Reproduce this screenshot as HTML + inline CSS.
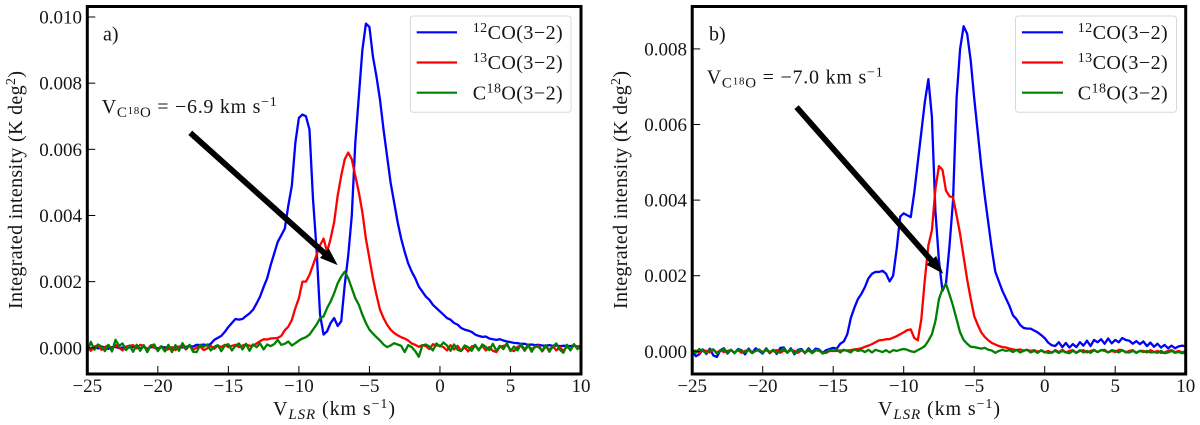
<!DOCTYPE html>
<html lang="en">
<head>
<meta charset="utf-8">
<title>CO spectra</title>
<style>
html,body{margin:0;padding:0;background:#fff;}
svg{display:block;}
text{font-family:"Liberation Serif","DejaVu Serif",serif;fill:#151515;}
.tick{font-size:19px;}
.lab{font-size:20px;}
.leg{font-size:20px;}
</style>
</head>
<body>
<svg id="fig" xmlns="http://www.w3.org/2000/svg" width="1200" height="425" viewBox="0 0 1200 425">
  <rect x="0" y="0" width="1200" height="425" fill="#fff"/>
  <defs>
    <clipPath id="clipA"><rect x="87.3" y="6.5" width="493.7" height="367.5"/></clipPath>
    <clipPath id="clipB"><rect x="692.2" y="6.5" width="493.5" height="367.5"/></clipPath>
  </defs>

  <g id="panelA">
    <g id="seriesA" clip-path="url(#clipA)"></g>
    <g id="ticksA"></g>
    <rect x="87.3" y="6.5" width="493.7" height="367.5" fill="none" stroke="#000" stroke-width="3"/>
    <text class="lab" x="103" y="40.5">a)</text>
    <text class="lab" x="101.7" y="113" textLength="175" lengthAdjust="spacing">V<tspan font-size="15" dy="4">C</tspan><tspan font-size="11" dy="-3">18</tspan><tspan font-size="15" dy="3">O</tspan><tspan dy="-4"> = −6.9 km s</tspan><tspan font-size="14" dy="-7">−1</tspan></text>
    <text class="lab" transform="translate(22,309) rotate(-90)" x="0" y="0" textLength="238" lengthAdjust="spacing">Integrated intensity (K deg<tspan font-size="14" dy="-7">2</tspan><tspan dy="7">)</tspan></text>
    <text class="lab" x="273" y="415" textLength="122" lengthAdjust="spacing">V<tspan font-size="15" font-style="italic" dy="4">LSR</tspan><tspan dy="-4"> (km s</tspan><tspan font-size="14" dy="-7">−1</tspan><tspan dy="7">)</tspan></text>
    <g>
      <rect x="410.3" y="16" width="160.7" height="96.3" rx="3" fill="#fff" fill-opacity="0.85" stroke="#d8d8d8" stroke-width="1"/>
      <line x1="416.7" x2="457" y1="32.3" y2="32.3" stroke="#0000ff" stroke-width="2.2"/>
      <line x1="416.7" x2="457" y1="62.5" y2="62.5" stroke="#ff0000" stroke-width="2.2"/>
      <line x1="416.7" x2="457" y1="92.7" y2="92.7" stroke="#008000" stroke-width="2.2"/>
      <text class="leg" x="472.7" y="39" textLength="90" lengthAdjust="spacing"><tspan font-size="14" dy="-7">12</tspan><tspan dy="7">CO(3−2)</tspan></text>
      <text class="leg" x="472.7" y="69" textLength="90" lengthAdjust="spacing"><tspan font-size="14" dy="-7">13</tspan><tspan dy="7">CO(3−2)</tspan></text>
      <text class="leg" x="472.7" y="99.3" textLength="90" lengthAdjust="spacing">C<tspan font-size="14" dy="-7">18</tspan><tspan dy="7">O(3−2)</tspan></text>
    </g>
  </g>

  <g id="panelB">
    <g id="seriesB" clip-path="url(#clipB)"></g>
    <g id="ticksB"></g>
    <rect x="692.2" y="6.5" width="493.5" height="367.5" fill="none" stroke="#000" stroke-width="3"/>
    <text class="lab" x="709" y="40.5">b)</text>
    <text class="lab" x="706.7" y="83.3" textLength="176" lengthAdjust="spacing">V<tspan font-size="15" dy="4">C</tspan><tspan font-size="11" dy="-3">18</tspan><tspan font-size="15" dy="3">O</tspan><tspan dy="-4"> = −7.0 km s</tspan><tspan font-size="14" dy="-7">−1</tspan></text>
    <text class="lab" transform="translate(627,309) rotate(-90)" x="0" y="0" textLength="238" lengthAdjust="spacing">Integrated intensity (K deg<tspan font-size="14" dy="-7">2</tspan><tspan dy="7">)</tspan></text>
    <text class="lab" x="878" y="415" textLength="122" lengthAdjust="spacing">V<tspan font-size="15" font-style="italic" dy="4">LSR</tspan><tspan dy="-4"> (km s</tspan><tspan font-size="14" dy="-7">−1</tspan><tspan dy="7">)</tspan></text>
    <g>
      <rect x="1015.5" y="16" width="161" height="96.3" rx="3" fill="#fff" fill-opacity="0.85" stroke="#d8d8d8" stroke-width="1"/>
      <line x1="1022" x2="1063" y1="32.3" y2="32.3" stroke="#0000ff" stroke-width="2.2"/>
      <line x1="1022" x2="1063" y1="62.5" y2="62.5" stroke="#ff0000" stroke-width="2.2"/>
      <line x1="1022" x2="1063" y1="92.7" y2="92.7" stroke="#008000" stroke-width="2.2"/>
      <text class="leg" x="1077.7" y="39" textLength="90" lengthAdjust="spacing"><tspan font-size="14" dy="-7">12</tspan><tspan dy="7">CO(3−2)</tspan></text>
      <text class="leg" x="1077.7" y="69" textLength="90" lengthAdjust="spacing"><tspan font-size="14" dy="-7">13</tspan><tspan dy="7">CO(3−2)</tspan></text>
      <text class="leg" x="1077.7" y="99.3" textLength="90" lengthAdjust="spacing">C<tspan font-size="14" dy="-7">18</tspan><tspan dy="7">O(3−2)</tspan></text>
    </g>
  </g>
</svg>

<script>
// Velocity channels (km/s)
const velocity = [
-25,-24.75,-24.5,-24.25,-24,-23.75,-23.5,-23.25,-23,-22.75,-22.5,-22.25,-22,-21.75,-21.5,-21.25,
-21,-20.75,-20.5,-20.25,-20,-19.75,-19.5,-19.25,-19,-18.75,-18.5,-18.25,-18,-17.75,-17.5,-17.25,
-17,-16.75,-16.5,-16.25,-16,-15.75,-15.5,-15.25,-15,-14.75,-14.5,-14.25,-14,-13.75,-13.5,-13.25,
-13,-12.75,-12.5,-12.25,-12,-11.75,-11.5,-11.25,-11,-10.75,-10.5,-10.25,-10,-9.75,-9.5,-9.25,
-9,-8.75,-8.5,-8.25,-8,-7.75,-7.5,-7.25,-7,-6.75,-6.5,-6.25,-6,-5.75,-5.5,-5.25,
-5,-4.75,-4.5,-4.25,-4,-3.75,-3.5,-3.25,-3,-2.75,-2.5,-2.25,-2,-1.75,-1.5,-1.25,
-1,-0.75,-0.5,-0.25,0,0.25,0.5,0.75,1,1.25,1.5,1.75,2,2.25,2.5,2.75,
3,3.25,3.5,3.75,4,4.25,4.5,4.75,5,5.25,5.5,5.75,6,6.25,6.5,6.75,
7,7.25,7.5,7.75,8,8.25,8.5,8.75,9,9.25,9.5,9.75,10];

// Intensities in units of 1e-4 K deg^2 — panel a
const co12A = [
-.6,-.3,.2,-.2, .4,.1,-.3,.2, .3,-.1,.1,-.4, .2,.3,.1,-.2,
.3,-.3,.2,.1, -.2,.3,.1,.2, -.1,.2,.3,.1, .3,.5,.4,.9,
.8,1,.7,1.2, 2.4,3,3.6,4.8, 6.3,7.5,8.7,8.5, 8.7,9.6,10.4,11.5,
13.4,15.5,18.4,21, 25,28.5,32,34, 36,43,49,62, 69.5,70.5,70,66,
45,30,10,4, 5,7.5,9,6.6, 8,19,28,40, 62,76,90,98,
97,88,82,75, 66,58,50,44, 38,33,29,25.5, 23,21,18.5,17,
15.5,14.5,13,12, 11,10,9,8.5, 7.5,7,6,5.5, 5.2,4.8,4,3.6,
3.3,3.4,2.8,2.6, 2.4,2.6,2.2,1.9, 1.7,1.5,1.4,1.2, 1.2,.9,1,.8,
.9,.7,.6,.8, .6,.7,.5,.6, .6,.5,.7,.4, .5];
const co13A = [
.6,-.9,.4,.7, -.6,.2,.8,-.5, .9,.1,-.8,.4, .6,.8,-.2,.9,
.6,-.5,.7,.1, -.6,.4,-.8,-.4, .2,-.7,.4,.6, -.5,.7,-.6,.1,
.4,-.7,-.2,.6, -.3,.7,.2,.9, .2,.6,.9,.2, .7,1,.6,.7,
1.3,2,2.6,2.5, 2.8,2.9,3,3.6, 5.3,6.4,8.4,12, 15,20,20,22,
25,28,31,33, 29,33,38,46, 52,57,59,57, 52,47,41,33,
27,21,16,11.5, 9,7,5.5,4.5, 3.8,3.2,2.8,2.2, 1.3,.9,.3,.8,
.5,-.4,1.1,.7, .7,.2,-.8,.8, -.5,.6,-.9,.2, -1.1,.4,.7,-.6,
.6,-.8,.2,-.9, -1.3,.3,.6,.9, -.6,-1,.3,.7, -.9,.6,-.4,.2,
.7,-1.1,.4,-.6, .5,-.8,.2,-1, .4,-.6,.8,.2, .3];
const c18oA = [
-1.2,1.8,-.6,1, .4,-1,.9,-1.1, 2.4,.6,1.3,-.7, .7,-1.2,.9,-.9,
.8,-1.3,.7,1, -1,.5,-1.1,.9, -1.3,.8,-.9,1.4, -.4,.9,-1.2,-1.3,
.9,.3,1,-.8, .3,.8,-1,.7, 1.1,-.8,.6,1.3, -.5,1.2,-.9,1,
.2,1.3,-.5,1, .5,1.1,2.4,.9, 1.2,1.9,.7,1.4, 2.2,2.8,3.2,4,
5.5,7,8.9,9.5, 12,14,16.5,19.5, 21.5,23,21,18, 15,13,10,7.5,
5.5,4.3,3.2,2.2, 1,.2,.7,1.4, 1,.6,-1.3,.8, .2,-1,-2.7,.7,
1,.4,-.8,1.3, .4,1.6,.7,-.9, 1,-.6,-1,.7, .2,-.9,.9,-.8,
1,.3,-.7,1.2, -.9,.6,-.4,1.4, -1,.4,-.8,1.1, -.6,.9,-1.2,.6,
.2,-.9,.8,-1.2, .4,1.3,-.6,-1.5, .9,-.8,1.1,-.4, .5];

// Intensities in units of 1e-4 K deg^2 — panel b
const co12B = [
.4,-1.3,-.8,.5, -.7,.7,-1.1,-1.5, .3,.8,-.6,.4, -.5,.6,.3,-.8,
.7,-.4,.8,.1, -.6,.8,-.5,.4, -.7,.9,1,-.4, .8,-.8,.4,.6,
-.5,.8,-.3,.7, .5,-.4,.3,.6, .9,.7,2,2.6, 4.5,8.8,11.5,13.8,
15.2,17,19.3,20.5, 21,21,21.3,20.5, 18.5,20,27,35.6, 36.5,36,35.5,42,
50,58,66,72, 62,37,24,16, 18,28,40,67, 80,86,84,77,
67,58,49,41, 34,27,21,18.5, 16,14,12,9.5, 8.5,7,6.2,6,
6,5.5,5,4.3, 3.5,2.3,1.6,1.4, 2.4,1.1,2.2,1, 1.9,1.1,2.4,1.5,
2.8,1.4,3,2.4, 3.2,2,3.4,2.1, 3,2.4,3.5,3, 2.8,2,2.7,1.9,
2.6,1.4,2.3,1.2, 2,1,1.7,.8, 1.5,.8,1.3,1.5, 1.3];
const co13B = [
-.3,.2,-.4,.3, .1,-.3,.4,-.4, .3,-.2,.1,.3, -.3,.3,-.4,.1,
.3,-.4,.1,.3, -.2,.3,-.3,.1, .3,-.4,.2,-.2, .3,.1,-.4,.3,
-.3,.2,-.4,.3, .1,-.3,-.4,.1, .1,.1,.2,.3, .2,.3,.5,.6,
.8,1.2,1.5,1.9, 2.4,2.9,3,3.2, 3.2,3.6,4,4.5, 5,5.6,5.8,3.5,
2.9,8.5,19,28, 32,43,49,48, 42.5,41,40.7,36, 31,25,19,14,
9.3,7,5,3.8, 2.9,2.2,1.8,1.4, 1.1,1,.7,.5, .3,.5,.2,.4,
.1,.3,-.1,.2, -.3,.1,-.4,.3, -.2,.4,-.3,.1, .3,-.4,.1,.3,
-.3,.1,.4,-.2, .3,.4,-.3,.1, -.2,.4,.3,-.3, .1,.3,-.4,.1,
.1,-.3,.3,-.2, .1,-.4,-.3,.1, .3,-.2,.1,-.3, .1];
const c18oB = [
.5,-.4,.6,.1, -.5,.4,.5,-.6, .2,.6,-.4,.4, -.5,.5,.1,-.3,
.4,-.5,.2,.5, -.4,.6,-.2,.4, -.5,.1,.7,-.4, .5,-.5,.2,.4,
-.4,.5,-.5,.2, .4,-.6,-.2,.4, .1,.5,-.3,.4, .1,-.3,.5,.1,
.3,-.2,.4,-.3, .4,.1,-.2,.3, -.3,.3,.1,.4, .6,.4,0,-.2,
.3,.8,1.4,2.8, 4.5,8,13.8,16.5, 17.8,15,12,8.5, 5,3,2,1.2,
1.1,.9,.7,.9, .4,.2,-.4,.1, .4,.1,.3,-.2, .4,-.3,.1,.4,
-.3,.1,-.4,.3, -.2,-.4,-.3,.1, -.4,.1,-.3,-.5, .1,-.4,.3,-.3,
.1,-.4,.3,-.2, .3,.1,-.3,.3, .1,-.3,.3,-.2, -.3,.1,-.4,.1,
-.2,.1,-.3,-.2, -.4,.1,-.5,-.3, .1,-.4,-.2,-.5, -.3];

// Axis ticks
const xTickValues = [-25,-20,-15,-10,-5,0,5,10];
const xTickLabels = ["−25","−20","−15","−10","−5","0","5","10"];
const yTickValuesA = [0,20,40,60,80,100];
const yTickLabelsA = ["0.000","0.002","0.004","0.006","0.008","0.010"];
const yTickValuesB = [0,20,40,60,80];
const yTickLabelsB = ["0.000","0.002","0.004","0.006","0.008"];

// Annotation arrows [velocity, intensity]
const arrowStartA = [-17.7,65];
const arrowTipA = [-7.25,25];
const arrowStartB = [-17.6,64.6];
const arrowTipB = [-7.2,20.5];

const SVGNS = "http://www.w3.org/2000/svg";

function xA(v){ return 87.3 + 14.106*(v+25); }
function yA(u){ return 347.8 - 3.308*u; }
function xB(v){ return 692.2 + 14.1*(v+25); }
function yB(u){ return 351.3 - 3.78*u; }

function drawSeries(groupId, xf, yf, values, colour, name){
  const d = values.map(function(u,i){
    return (i ? "L" : "M") + xf(velocity[i]).toFixed(2) + " " + yf(u).toFixed(2);
  }).join("");
  const p = document.createElementNS(SVGNS,"path");
  
  
  p.setAttribute("d", d);
  p.setAttribute("fill", "none");
  p.setAttribute("stroke", colour);
  p.setAttribute("stroke-width", "2.3");
  p.setAttribute("stroke-linejoin", "round");
  document.getElementById(groupId).appendChild(p);
}

function drawAxes(groupId, xf, yf, yVals, yLabs, yLabelRight, bottom){
  const g = document.getElementById(groupId);
  xTickValues.forEach(function(v,i){
    const t = document.createElementNS(SVGNS,"line");
    
    
    t.setAttribute("x1", xf(v)); t.setAttribute("x2", xf(v));
    t.setAttribute("y1", bottom-8); t.setAttribute("y2", bottom);
    t.setAttribute("stroke", "#000"); t.setAttribute("stroke-width", "1");
    g.appendChild(t);
    const l = document.createElementNS(SVGNS,"text");
    
    
    l.setAttribute("class", "tick");
    l.setAttribute("x", xf(v)); l.setAttribute("y", 392);
    l.setAttribute("text-anchor", "middle");
    l.textContent = xTickLabels[i];
    g.appendChild(l);
  });
  yVals.forEach(function(u,i){
    const t = document.createElementNS(SVGNS,"line");
    
    
    t.setAttribute("x1", xf(-25)); t.setAttribute("x2", xf(-25)+8);
    t.setAttribute("y1", yf(u)); t.setAttribute("y2", yf(u));
    t.setAttribute("stroke", "#000"); t.setAttribute("stroke-width", "1");
    g.appendChild(t);
    const l = document.createElementNS(SVGNS,"text");
    
    
    l.setAttribute("class", "tick");
    l.setAttribute("x", yLabelRight); l.setAttribute("y", yf(u)+6.5);
    l.setAttribute("text-anchor", "end");
    l.textContent = yLabs[i];
    g.appendChild(l);
  });
}

function drawArrow(groupId, xf, yf, start, tip){
  const sx = xf(start[0]), sy = yf(start[1]), tx = xf(tip[0]), ty = yf(tip[1]);
  const len = Math.hypot(tx-sx, ty-sy), ux = (tx-sx)/len, uy = (ty-sy)/len;
  const nx = -uy, ny = ux, hw = 2.9, hh = 6.5, hl = 18;
  const bx = tx-ux*hl, by = ty-uy*hl;
  const pts = [
    [sx+nx*hw, sy+ny*hw],[bx+nx*hw, by+ny*hw],[bx+nx*hh, by+ny*hh],[tx,ty],
    [bx-nx*hh, by-ny*hh],[bx-nx*hw, by-ny*hw],[sx-nx*hw, sy-ny*hw]
  ].map(function(p){ return p[0].toFixed(2)+","+p[1].toFixed(2); }).join(" ");
  const a = document.createElementNS(SVGNS,"polygon");
  
  
  a.setAttribute("points", pts);
  a.setAttribute("fill", "#000");
  document.getElementById(groupId).appendChild(a);
}

drawSeries("seriesA", xA, yA, co12A, "#0000ff", "panel-a-12co-line");
drawSeries("seriesA", xA, yA, co13A, "#ff0000", "panel-a-13co-line");
drawSeries("seriesA", xA, yA, c18oA, "#008000", "panel-a-c18o-line");
drawArrow("seriesA", xA, yA, arrowStartA, arrowTipA);
drawAxes("ticksA", xA, yA, yTickValuesA, yTickLabelsA, 82, 374);

drawSeries("seriesB", xB, yB, co12B, "#0000ff", "panel-b-12co-line");
drawSeries("seriesB", xB, yB, co13B, "#ff0000", "panel-b-13co-line");
drawSeries("seriesB", xB, yB, c18oB, "#008000", "panel-b-c18o-line");
drawArrow("seriesB", xB, yB, arrowStartB, arrowTipB);
drawAxes("ticksB", xB, yB, yTickValuesB, yTickLabelsB, 687, 374);
</script>
</body>
</html>
